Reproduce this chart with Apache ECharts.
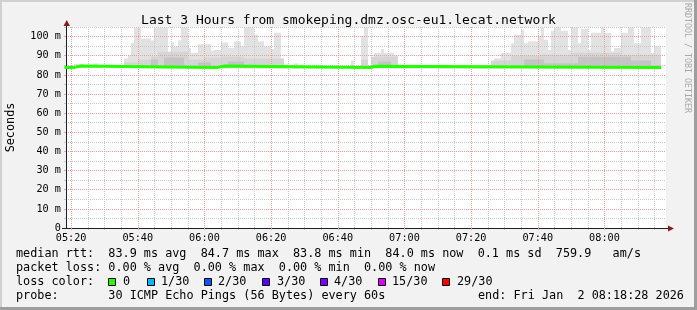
<!DOCTYPE html>
<html><head><meta charset="utf-8">
<script src="https://cdn.jsdelivr.net/npm/echarts@6/dist/echarts.min.js"></script>
<style>html,body{margin:0;padding:0;background:#f2f2f2}#c{width:697px;height:310px}</style>
</head><body><div id="c"></div>
<script>
// ---------- data ----------
const chartTitle = 'Last 3 Hours from smokeping.dmz.osc-eu1.lecat.network';
const xStart = '05:18:28';
const xEnd = '08:18:28';
const xLabels = ['05:20','05:40','06:00','06:20','06:40','07:00','07:20','07:40','08:00'];
const xMinor = ['05:25','05:30','05:35','05:45','05:50','05:55','06:05','06:10','06:15','06:25','06:30','06:35',
                '06:45','06:50','06:55','07:05','07:10','07:15','07:25','07:30','07:35','07:45','07:50','07:55',
                '08:05','08:10','08:15'];
const yLabels = [0,10,20,30,40,50,60,70,80,90,100];
const yMinor = [5,15,25,35,45,55,65,75,85,95,105];
const yMax = 105;

// smoke (grey bands), each interval runs from start[i] to start[i+1] (last one to smokeEnd)
const smokeBase = 83.5;
const smokeEnd = '08:17';
const lightStart = ['05:21','05:24','05:27','05:28','05:36','05:37','05:38','05:39','05:41','05:42',
                    '05:44','05:45','05:49','05:50','05:51','05:52','05:53','05:55','05:56','05:58',
                    '06:02','06:03','06:05','06:07','06:09','06:11','06:12','06:15','06:16','06:18',
                    '06:20','06:21','06:23','06:24','06:27','06:28','06:44','06:45','06:47','06:48',
                    '06:49','06:50','06:51','06:53','06:54','06:57','06:58','07:02','07:07','07:26',
                    '07:27','07:29','07:32','07:33','07:35','07:36','07:37','07:40','07:41','07:42',
                    '07:43','07:44','07:45','07:47','07:49','07:50','07:52','07:53','07:55','07:56',
                    '07:59','08:00','08:02','08:03','08:05','08:07','08:09','08:11','08:14','08:15'];
const lightTop   = [85.7, 84.5, 86, 84.5, 88.6, 90, 96.6, 104.8, 98.7, 99,
                    98, 104.8, 92, 97, 95, 98, 104.8, 94, 91.5, 96,
                    92.5, 93, 97, 94, 97.5, 95, 104.8, 101, 97.5, 95,
                    93.5, 102, 88.6, 84.5, 86, 84.5, 87.5, 84.5, 100.5, 104.8,
                    84.5, 88.6, 91.5, 93.5, 91.5, 90, 84.5, 85, 84.5, 87,
                    88.6, 91.5, 96.5, 101, 103.6, 96.5, 97.5, 100.3, 104.8, 98.3,
                    93, 103, 104.8, 103, 93, 104.8, 96.5, 104, 93, 102,
                    104.8, 102, 92.3, 94, 102, 104.8, 96.5, 104.8, 91.5, 95];
const midStart = ['05:36','05:40','05:44','05:46','05:55','06:00','06:05','06:12','06:24','06:47',
                  '06:49','06:50','06:58','07:26','07:32','07:40','07:50','08:05'];
const midTop   = [86.5, 88, 89.5, 92, 88, 89, 89.5, 88.5, 84, 88,
                  84, 89.5, 84, 87.5, 90, 90.5, 91.5, 90.5];
const coreStart = ['05:44','05:46','05:48','05:54','05:58','06:02','06:07','06:12','06:52','06:56',
                   '07:36','07:42','07:52','08:08','08:14'];
const coreTop   = [88, 84, 89, 84, 86.5, 84, 87, 84, 87, 84,
                   88, 86, 89.5, 87.5, 85];

// median rtt (step line)
const medTimes  = ['05:18','05:21','05:23','06:04','06:06','06:50','06:51','08:17'];
const medValues = [83.9, 84.6, 83.9, 84.6, 83.9, 84.5, 83.9, 83.9];

// legend texts
const legendLines = [
  'median rtt:  83.9 ms avg  84.7 ms max  83.8 ms min  84.0 ms now  0.1 ms sd  759.9   am/s',
  'packet loss: 0.00 % avg  0.00 % max  0.00 % min  0.00 % now',
  'loss color:',
  'probe:       30 ICMP Echo Pings (56 Bytes) every 60s'
];
const lossLabels = ['0','1/30','2/30','3/30','4/30','15/30','29/30'];
const lossColors = ['#26ff00','#00b8ff','#0059ff','#5e00ff','#7e00ff','#dd00ff','#ff0000'];
const endText = 'end: Fri Jan  2 08:18:28 2026';
const sideText = 'RRDTOOL / TOBI OETIKER';

// ---------- styles ----------
const MONO = "'DejaVu Sans Mono', monospace";
const MAJOR = '#eea0a0';
const MINOR = '#c8c8c8';
const smokeColors = ['#e2e2e2', '#d5d5d5', '#c4c4c4'];
const lossSquareX = [108, 147, 204, 262, 320, 378, 442];
const lossLabelX  = [123, 161, 218, 277, 334, 392, 457];

function toMin(s){ const p = s.split(':').map(Number); return p[0]*60 + p[1] + (p[2]||0)/60; }
const xMin = toMin(xStart), xMax = toMin(xEnd);

function layerItems(starts, tops, layer){
  return starts.map((s,i) => [toMin(s), toMin(i+1 < starts.length ? starts[i+1] : smokeEnd), smokeBase, tops[i], layer]);
}
const smokeData = [].concat(layerItems(lightStart, lightTop, 0), layerItems(midStart, midTop, 1), layerItems(coreStart, coreTop, 2));
const medData = medTimes.map((t,i) => [toMin(t), medValues[i]]);

const chart = echarts.init(document.getElementById('c'), null, {renderer:'canvas', width:697, height:310});

const graphics = [
  // frame shading
  {type:'rect', shape:{x:0,y:0,width:697,height:2}, style:{fill:'#d0d0d0'}, z:0},
  {type:'rect', shape:{x:0,y:0,width:2,height:310}, style:{fill:'#d0d0d0'}, z:0},
  {type:'rect', shape:{x:0,y:307,width:697,height:3}, style:{fill:'#9e9e9e'}, z:0},
  {type:'rect', shape:{x:694,y:0,width:3,height:310}, style:{fill:'#9e9e9e'}, z:0},
  // axis extensions and arrows
  {type:'line', shape:{x1:66.5,y1:22,x2:66.5,y2:27}, style:{stroke:'#1f1f1f',lineWidth:1}, z:10},
  {type:'polygon', shape:{points:[[63.5,26],[70,26],[66.75,20]]}, style:{fill:'#7f1f1f'}, z:10},
  {type:'line', shape:{x1:62,y1:228.5,x2:66,y2:228.5}, style:{stroke:'#1f1f1f',lineWidth:1}, z:10},
  {type:'line', shape:{x1:666,y1:228.5,x2:669,y2:228.5}, style:{stroke:'#1f1f1f',lineWidth:1}, z:10},
  {type:'polygon', shape:{points:[[668,225.5],[668,231.5],[674,228.5]]}, style:{fill:'#7f1f1f'}, z:10},
  // side text
  {type:'text', x:687, y:58, rotation:-Math.PI/2, style:{text:sideText, font:"8.3px "+MONO, fill:'#a8a8a8', align:'center', verticalAlign:'middle'}, z:10},
  // end text
  {type:'text', x:478, y:296, style:{text:endText, font:"11.8px "+MONO, fill:'#000', align:'left', verticalAlign:'middle'}, z:10}
];
const lineY = [254.3, 268.3, 282.3, 296];
legendLines.forEach((t,i) => graphics.push({type:'text', x:16, y:lineY[i], style:{text:t, font:"11.8px "+MONO, fill:'#000', align:'left', verticalAlign:'middle'}, z:10}));
lossLabels.forEach((t,i) => {
  graphics.push({type:'rect', shape:{x:lossSquareX[i]+0.5, y:278.5, width:7, height:7}, style:{fill:lossColors[i], stroke:'#000', lineWidth:1}, z:10});
  graphics.push({type:'text', x:lossLabelX[i], y:lineY[2], style:{text:t, font:"11.8px "+MONO, fill:'#000', align:'left', verticalAlign:'middle'}, z:10});
});

const axisLabelStyle = {fontFamily:MONO, fontSize:10.2, color:'#000'};

chart.setOption({
  animation:false,
  backgroundColor:'#f2f2f2',
  title:{text:chartTitle, left:'center', top:9, textStyle:{fontFamily:MONO, fontSize:13, fontWeight:'normal', color:'#000'}},
  grid:{left:66, top:27, width:600, height:201, show:true, backgroundColor:'#ffffff', borderWidth:0, containLabel:false, outerBoundsMode:'none'},
  xAxis:[
    {type:'value', min:xMin, max:xMax, position:'bottom', z:4,
     axisLine:{show:true, onZero:false, lineStyle:{color:'#1f1f1f', width:1}},
     axisTick:{show:true, customValues:xLabels.map(toMin), length:2, lineStyle:{color:MAJOR}},
     axisLabel:{show:true, customValues:xLabels.map(toMin), margin:5, ...axisLabelStyle,
       formatter:(v)=>{ const i = xLabels.map(toMin).findIndex(m=>Math.abs(m-v)<1e-6); return i>=0?xLabels[i]:''; }},
     splitLine:{show:true, lineStyle:{color:MAJOR, type:[1,1], width:1}}},
    {type:'value', min:xMin, max:xMax, position:'bottom', z:3,
     axisLine:{show:false},
     axisTick:{show:true, customValues:xMinor.map(toMin), length:2, lineStyle:{color:MINOR}},
     axisLabel:{show:false},
     splitLine:{show:true, lineStyle:{color:MINOR, type:[1,1], width:1}}}
  ],
  yAxis:[
    {type:'value', min:0, max:yMax, position:'left', z:4,
     name:'Seconds', nameLocation:'middle', nameGap:49, nameRotate:90,
     nameTextStyle:{fontFamily:MONO, fontSize:11.8, color:'#000'},
     axisLine:{show:true, onZero:false, lineStyle:{color:'#1f1f1f', width:1}},
     axisTick:{show:true, customValues:yLabels, length:2, lineStyle:{color:MAJOR}},
     axisLabel:{show:true, customValues:yLabels, margin:5, ...axisLabelStyle, formatter:(v)=> v===0 ? '0' : v+' m'},
     splitLine:{show:true, lineStyle:{color:MAJOR, type:[1,1], width:1}}},
    {type:'value', min:0, max:yMax, position:'left', z:3,
     axisLine:{show:false},
     axisTick:{show:true, customValues:yMinor, length:2, lineStyle:{color:MINOR}},
     axisLabel:{show:false},
     splitLine:{show:true, lineStyle:{color:MINOR, type:[1,1], width:1}}}
  ],
  graphic:graphics,
  series:[
    {type:'custom', xAxisIndex:0, yAxisIndex:0, z:1, clip:true, silent:true,
     data:smokeData, encode:{x:[0,1], y:[2,3]},
     renderItem:(params, api)=>{
       const a = api.coord([api.value(0), api.value(3)]);
       const b = api.coord([api.value(1), api.value(2)]);
       const x0 = Math.round(a[0]), x1 = Math.round(b[0]);
       return {type:'rect', shape:{x:x0, y:a[1], width:x1-x0, height:b[1]-a[1]}, style:{fill:smokeColors[api.value(4)]}};
     }},
    {type:'line', xAxisIndex:0, yAxisIndex:0, z:5, data:medData, step:'end', symbol:'none', clip:true,
     lineStyle:{color:'#26ff00', width:3}}
  ]
});
</script></body></html>
